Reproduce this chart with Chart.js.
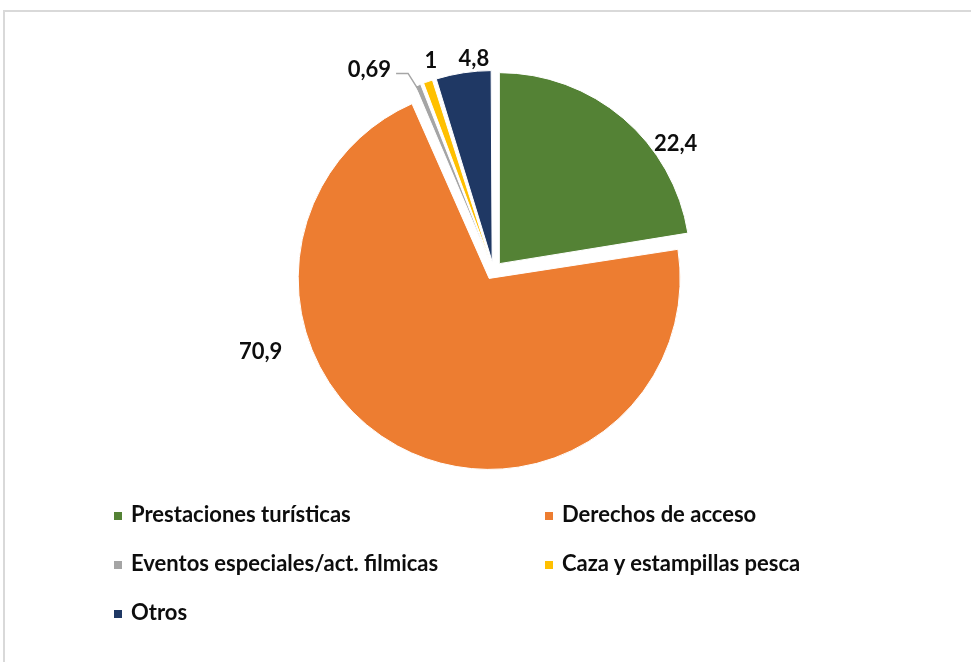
<!DOCTYPE html>
<html>
<head>
<meta charset="utf-8">
<script src="https://cdn.jsdelivr.net/npm/chart.js@4.4.1/dist/chart.umd.min.js"></script>
<style>
    html, body {
        margin: 0;
        padding: 0;
        width: 971px;
        height: 662px;
        overflow: hidden;
        background: #fff;
        font-family: Lato, "Noto Sans", sans-serif;
    }
    .frame {
        position: absolute;
        left: 3px;
        top: 10px;
        width: 1000px;
        height: 700px;
        border-left: 2px solid #d9d9d9;
        border-top: 2px solid #d9d9d9;
    }
    .pie-box {
        position: absolute;
        left: 0;
        top: 0;
        width: 971px;
        height: 662px;
    }
    .legend {
        position: absolute;
        left: 0;
        top: 0;
    }
    .legend-item {
        position: absolute;
        font-weight: 700;
        font-size: 22px;
        line-height: 22px;
        color: #0d0d0d;
        white-space: nowrap;
    }
    .legend-item i {
        position: absolute;
        width: 8px;
        height: 8px;
        top: 9px;
    }
</style>
</head>
<body>
<div class="frame"></div>
<div class="pie-box"><canvas id="pie"></canvas></div>
<div class="legend" id="legend"></div>

<script>
// Chart data
const categories = [
    'Prestaciones turísticas',
    'Derechos de acceso',
    'Eventos especiales/act. filmicas',
    'Caza y estampillas pesca',
    'Otros'
];
const values = [22.4, 70.9, 0.69, 1, 4.8];
const sliceColors = ['#548235', '#ed7d31', '#a5a5a5', '#ffc000', '#1f3864'];

// Label placement (degrees shifted from the slice mid-angle, px beyond the rim)
const labelShift = [15.3, 43.5, -9.9, 2.6, 3.5];
const labelGap = [22.5, 58, 45, 27, 19];
const SLICE_OFFSET = 36;

const formatValue = v => String(v).replace('.', ',');

// Excel keeps every exploded slice at the same radius; Chart.js grows some of them
const sameRadiusPlugin = {
    id: 'sameRadius',
    afterDatasetUpdate(chart, args) {
        const meta = chart.getDatasetMeta(args.index);
        meta.data.forEach(arc => {
            const off = (arc.options.offset || 0) / 4;
            const fix = 1 - Math.sin(Math.min(Math.PI, arc.circumference || 0));
            arc.outerRadius -= off * fix;
        });
    }
};

const outsideLabelsPlugin = {
    id: 'outsideLabels',
    afterDatasetsDraw(chart) {
        const ctx = chart.ctx;
        const meta = chart.getDatasetMeta(0);
        ctx.save();
        ctx.font = '700 22px Lato';
        ctx.fillStyle = '#0d0d0d';
        ctx.textAlign = 'center';
        ctx.textBaseline = 'middle';
        meta.data.forEach((arc, i) => {
            const mid = (arc.startAngle + arc.endAngle) / 2;
            const shift = (arc.options.offset || 0) / 4;
            const cx = arc.x + Math.cos(mid) * shift;
            const cy = arc.y + Math.sin(mid) * shift;
            const a = mid + labelShift[i] * Math.PI / 180;
            const r = arc.outerRadius + labelGap[i];
            const lx = cx + Math.cos(a) * r;
            const ly = cy + Math.sin(a) * r;
            const text = formatValue(values[i]);
            ctx.fillText(text, lx, ly);

            // leader line for the tiny grey slice
            if (i === 2) {
                const w = ctx.measureText(text).width;
                const x0 = lx + w / 2 + 5;
                const y0 = ly + 4;
                const ex = cx + Math.cos(mid) * (arc.outerRadius - 3);
                const ey = cy + Math.sin(mid) * (arc.outerRadius - 3);
                ctx.beginPath();
                ctx.strokeStyle = '#a6a6a6';
                ctx.lineWidth = 1.5;
                ctx.moveTo(x0, y0);
                ctx.lineTo(x0 + 12, y0);
                ctx.lineTo(ex, ey);
                ctx.stroke();
            }
        });
        ctx.restore();
    }
};

new Chart(document.getElementById('pie'), {
    type: 'pie',
    data: {
        labels: categories,
        datasets: [{
            data: values,
            backgroundColor: sliceColors,
            borderColor: '#ffffff',
            borderWidth: 1,
            offset: SLICE_OFFSET,
            hoverOffset: 0
        }]
    },
    options: {
        responsive: true,
        maintainAspectRatio: false,
        animation: false,
        events: [],
        layout: { padding: { left: 284, right: 268, top: 61, bottom: 182 } },
        plugins: {
            legend: { display: false },
            tooltip: { enabled: false }
        }
    },
    plugins: [sameRadiusPlugin, outsideLabelsPlugin]
});

// Two-column legend under the pie
const legendCols = [114, 545];
const legendTop = 503;
const legendRow = 49;
const legend = document.getElementById('legend');
categories.forEach((name, i) => {
    const item = document.createElement('div');
    item.className = 'legend-item';
    item.style.left = (legendCols[i % 2] + 17) + 'px';
    item.style.top = (legendTop + Math.floor(i / 2) * legendRow) + 'px';
    const mark = document.createElement('i');
    mark.style.left = '-17px';
    mark.style.background = sliceColors[i];
    item.appendChild(mark);
    item.appendChild(document.createTextNode(name));
    legend.appendChild(item);
});
</script>
</body>
</html>
